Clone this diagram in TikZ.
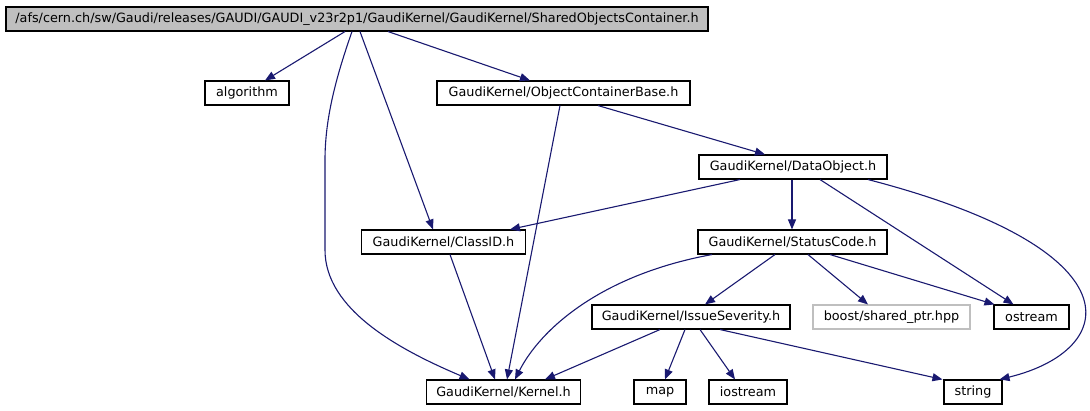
\documentclass[tikz,border=0pt]{standalone}
\usepackage{fontspec}
\setmainfont{DejaVu Sans}
\usetikzlibrary{arrows.meta}
\definecolor{edgeblue}{HTML}{191970}
\definecolor{topgray}{HTML}{BFBFBF}
\begin{document}
\begin{tikzpicture}[x=1pt,y=-1pt,
  box/.style={draw=black,line width=1.1pt,fill=white,minimum height=24pt,inner sep=0pt,
    font=\fontsize{12.8}{14}\selectfont},
  dep/.style={draw=edgeblue,line width=1.1pt,-{Triangle[length=10pt,width=8pt]}}]
\useasboundingbox (0,0) rectangle (1090,411);

\node[box,fill=topgray,minimum width=702pt] (top) at (357,19) {/afs/cern.ch/sw/Gaudi/releases/GAUDI/GAUDI\_v23r2p1/GaudiKernel/GaudiKernel/SharedObjectsContainer.h};
\node[box,minimum width=84pt] (algo) at (247,93) {algorithm};
\node[box,minimum width=253pt] (ocb) at (563.5,93) {GaudiKernel/ObjectContainerBase.h};
\node[box,minimum width=188pt] (dobj) at (793,167) {GaudiKernel/DataObject.h};
\node[box,minimum width=164pt] (clid) at (443.5,242) {GaudiKernel/ClassID.h};
\node[box,minimum width=189pt] (stat) at (792.5,242) {GaudiKernel/StatusCode.h};
\node[box,minimum width=198pt] (issue) at (691,317) {GaudiKernel/IssueSeverity.h};
\node[box,draw=topgray,minimum width=157pt] (boost) at (891.5,317) {boost/shared\_ptr.hpp};
\node[box,minimum width=75pt] (ostr) at (1031.5,317) {ostream};
\node[box,minimum width=154pt] (kern) at (503.5,392) {GaudiKernel/Kernel.h};
\node[box,minimum width=52pt] (map) at (660,392) {map};
\node[box,minimum width=78pt] (iostr) at (748,392) {iostream};
\node[box,minimum width=58pt] (str) at (973,392) {string};

\draw[dep] ([xshift=-12pt]top.south) -- ([xshift=18pt]algo.north);
\draw[dep] ([xshift=31pt]top.south) -- ([xshift=-33.5pt]ocb.north);
\draw[dep] ([xshift=3pt]top.south) -- ([xshift=-10.5pt]clid.north);
\draw[dep] ([xshift=-5pt]top.south) .. controls (335,80) and (325,120) .. (325,160)
  -- (325,250) .. controls (325,310) and (400,350) .. ([xshift=-34pt]kern.north);
\draw[dep] ([xshift=34.5pt]ocb.south) -- ([xshift=-28pt]dobj.north);
\draw[dep] ([xshift=-3.5pt]ocb.south) -- ([xshift=3.5pt]kern.north);
\draw[dep] ([xshift=-53pt]dobj.south) -- ([xshift=66.5pt]clid.north);
\draw[dep] ([xshift=-1pt]dobj.south) -- ([xshift=-0.5pt]stat.north);
\draw[dep] ([xshift=27pt]dobj.south) -- ([xshift=-18pt]ostr.north);
\draw[dep] ([xshift=75pt]dobj.south) .. controls (1140,250) and (1120,350) .. ([xshift=-3pt]str.north east);
\draw[dep] ([xshift=6.5pt]clid.south) -- ([xshift=-8.5pt]kern.north);
\draw[dep] ([xshift=-80.5pt]stat.south) .. controls (600,275) and (540,330) .. ([xshift=11.5pt]kern.north);
\draw[dep] ([xshift=-17.5pt]stat.south) -- ([xshift=14pt]issue.north);
\draw[dep] ([xshift=15.5pt]stat.south) -- ([xshift=-23.5pt]boost.north);
\draw[dep] ([xshift=37.5pt]stat.south) -- ([xshift=1pt]ostr.north west);
\draw[dep] ([xshift=-31pt]issue.south) -- ([xshift=41.5pt]kern.north);
\draw[dep] ([xshift=-6pt]issue.south) -- ([xshift=5pt]map.north);
\draw[dep] ([xshift=9pt]issue.south) -- ([xshift=-13pt]iostr.north);
\draw[dep] ([xshift=29pt]issue.south) -- ([xshift=-1pt]str.north west);
\end{tikzpicture}
\end{document}
